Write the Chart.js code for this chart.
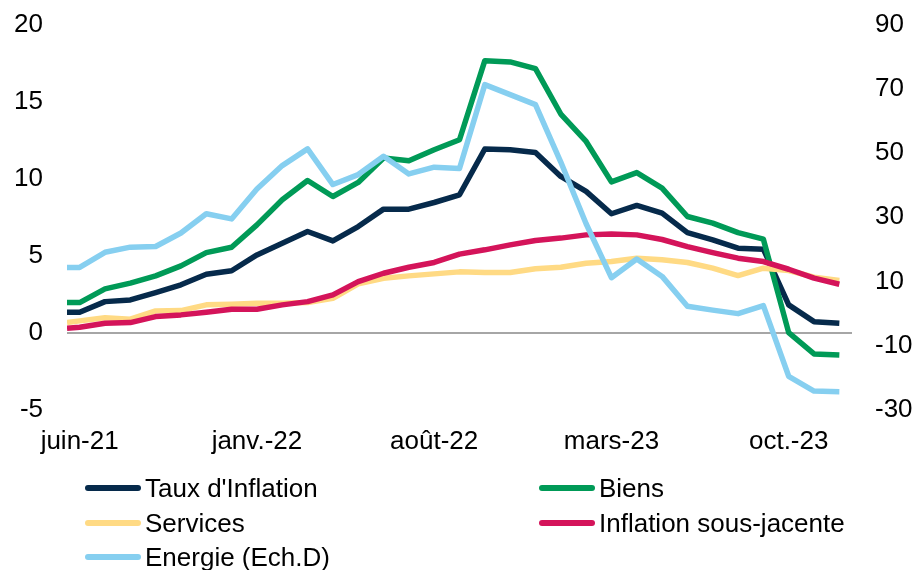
<!DOCTYPE html>
<html>
<head>
<meta charset="utf-8">
<script src="https://cdn.jsdelivr.net/npm/chart.js@4.4.1/dist/chart.umd.min.js"></script>
<style>
  html, body { margin: 0; padding: 0; background: #ffffff; }
  #wrap { position: relative; width: 916px; height: 570px; overflow: hidden; }
  #legend { position: absolute; left: 0; top: 0; width: 916px; height: 570px; pointer-events: none;
            font-family: "Liberation Sans", Arial, sans-serif; font-size: 26px; color: #000; }
  .item { position: absolute; display: flex; align-items: center; white-space: nowrap; height: 32px; }
  .swatch { width: 56px; height: 6px; border-radius: 3px; margin-right: 4px; }
</style>
</head>
<body>
<div id="wrap">
  <canvas id="c" width="916" height="570"></canvas>
  <div id="legend"></div>
</div>
<script>
// Month categories (juin-21 .. déc-23)
const months = ['juin-21','juil.-21','août-21','sept.-21','oct.-21','nov.-21','déc.-21',
  'janv.-22','févr.-22','mars-22','avr.-22','mai-22','juin-22','juil.-22','août-22','sept.-22','oct.-22','nov.-22','déc.-22',
  'janv.-23','févr.-23','mars-23','avr.-23','mai-23','juin-23','juil.-23','août-23','sept.-23','oct.-23','nov.-23','déc.-23'];
// month positions of the points: the series begin half a month before juin-21
const periods = [-0.5].concat(months.map((m, i) => i));
const tickMonths = [0, 7, 14, 21, 28];

// Series values (%), first value = start of line at left edge
const tauxInflation = [1.34, 1.34, 2.03, 2.14, 2.62, 3.12, 3.81, 4.03, 5.06, 5.82, 6.58, 5.97, 6.90, 8.03, 8.03, 8.46, 8.96,
  11.93, 11.88, 11.71, 10.15, 9.18, 7.73, 8.27, 7.77, 6.51, 6.04, 5.50, 5.43, 1.82, 0.73, 0.63];
const biens = [1.97, 1.97, 2.86, 3.23, 3.70, 4.35, 5.21, 5.56, 7.01, 8.64, 9.89, 8.85, 9.76, 11.34, 11.17, 11.88, 12.53,
  17.66, 17.58, 17.14, 14.2, 12.42, 9.8, 10.4, 9.39, 7.55, 7.12, 6.51, 6.08, 0.02, -1.36, -1.43];
const services = [0.67, 0.78, 0.99, 0.89, 1.43, 1.45, 1.82, 1.86, 1.93, 1.93, 1.97, 2.25, 3.18, 3.55, 3.70, 3.83, 3.96,
  3.92, 3.92, 4.16, 4.26, 4.52, 4.63, 4.85, 4.74, 4.57, 4.20, 3.72, 4.20, 4.05, 3.62, 3.40];
const inflationSousJacente = [0.30, 0.37, 0.63, 0.67, 1.06, 1.17, 1.34, 1.54, 1.54, 1.82, 2.03, 2.47, 3.33, 3.87, 4.26, 4.57, 5.11,
  5.39, 5.71, 6.0, 6.15, 6.36, 6.41, 6.36, 6.06, 5.60, 5.21, 4.85, 4.63, 4.13, 3.55, 3.16];
const energie = [14.4, 14.4, 19.1, 20.7, 20.9, 25.1, 31.1, 29.5, 38.8, 46.1, 51.3, 40.2, 43.3, 49.0, 43.5, 45.6, 45.2,
  71.3, 68.2, 65.1, 47.2, 28.0, 11.2, 17.0, 11.6, 2.3, 1.1, 0.0, 2.5, -19.5, -24.1, -24.3];

const leftTicks = [-5, 0, 5, 10, 15, 20];
const rightTicks = [-30, -10, 10, 30, 50, 70, 90];

const FONT = '"Liberation Sans", Arial, sans-serif';
const pts = arr => arr.map((v, i) => ({ x: periods[i], y: v }));

const series = [
  { label: "Taux d'Inflation", data: tauxInflation, color: '#062a4b', axis: 'y', order: 5 },
  { label: 'Biens', data: biens, color: '#009a57', axis: 'y', order: 4 },
  { label: 'Services', data: services, color: '#ffda84', axis: 'y', order: 3 },
  { label: 'Inflation sous-jacente', data: inflationSousJacente, color: '#d4145a', axis: 'y', order: 2 },
  { label: 'Energie (Ech.D)', data: energie, color: '#86cff0', axis: 'y2', order: 1 }
];

const chart = new Chart(document.getElementById('c'), {
  type: 'line',
  data: {
    datasets: series.map(s => ({
      label: s.label,
      data: pts(s.data),
      borderColor: s.color,
      backgroundColor: s.color,
      borderWidth: 5.5,
      pointRadius: 0,
      tension: 0,
      borderJoinStyle: 'round',
      yAxisID: s.axis,
      order: s.order
    }))
  },
  options: {
    responsive: false,
    animation: false,
    layout: { padding: { top: 0, left: 0, right: 0, bottom: 0 } },
    plugins: { legend: { display: false }, tooltip: { enabled: false } },
    scales: {
      x: {
        type: 'linear',
        min: -0.5,
        max: 30.5,
        grid: { display: false, drawTicks: false },
        border: { display: false },
        afterBuildTicks: sc => { sc.ticks = tickMonths.map(v => ({ value: v })); },
        afterFit: sc => { sc.height = 160; },
        ticks: {
          autoSkip: false, maxRotation: 0, padding: 16,
          color: '#000', font: { family: FONT, size: 26 },
          callback: v => months[v]
        }
      },
      y: {
        position: 'left',
        min: -5, max: 20,
        afterBuildTicks: sc => { sc.ticks = leftTicks.map(v => ({ value: v })); },
        afterFit: sc => { sc.width = 67; },
        grid: {
          drawTicks: true,
          tickLength: 15,
          tickColor: 'rgba(0,0,0,0)',
          lineWidth: 2,
          color: ctx => (ctx.tick && ctx.tick.value === 0) ? '#a6a6a6' : 'rgba(0,0,0,0)'
        },
        border: { display: false },
        ticks: { padding: 9, color: '#000', font: { family: FONT, size: 26 } }
      },
      y2: {
        position: 'right',
        min: -30, max: 90,
        afterBuildTicks: sc => { sc.ticks = rightTicks.map(v => ({ value: v })); },
        afterFit: sc => { sc.width = 64; },
        grid: { drawOnChartArea: false, drawTicks: true, tickLength: 14, color: 'rgba(0,0,0,0)', tickColor: 'rgba(0,0,0,0)' },
        border: { display: false },
        ticks: { padding: 9, color: '#000', font: { family: FONT, size: 26 } }
      }
    }
  }
});

// Legend (two columns, real text)
const legendPos = [
  { left: 85, top: 488 }, { left: 539, top: 488 },
  { left: 85, top: 523 }, { left: 539, top: 523 },
  { left: 85, top: 557 }
];
const legendEl = document.getElementById('legend');
series.forEach((s, i) => {
  const d = document.createElement('div');
  d.className = 'item';
  d.style.left = legendPos[i].left + 'px';
  d.style.top = (legendPos[i].top - 16) + 'px';
  const sw = document.createElement('span');
  sw.className = 'swatch';
  sw.style.background = s.color;
  const t = document.createElement('span');
  t.textContent = s.label;
  d.appendChild(sw); d.appendChild(t);
  legendEl.appendChild(d);
});
</script>
</body>
</html>
